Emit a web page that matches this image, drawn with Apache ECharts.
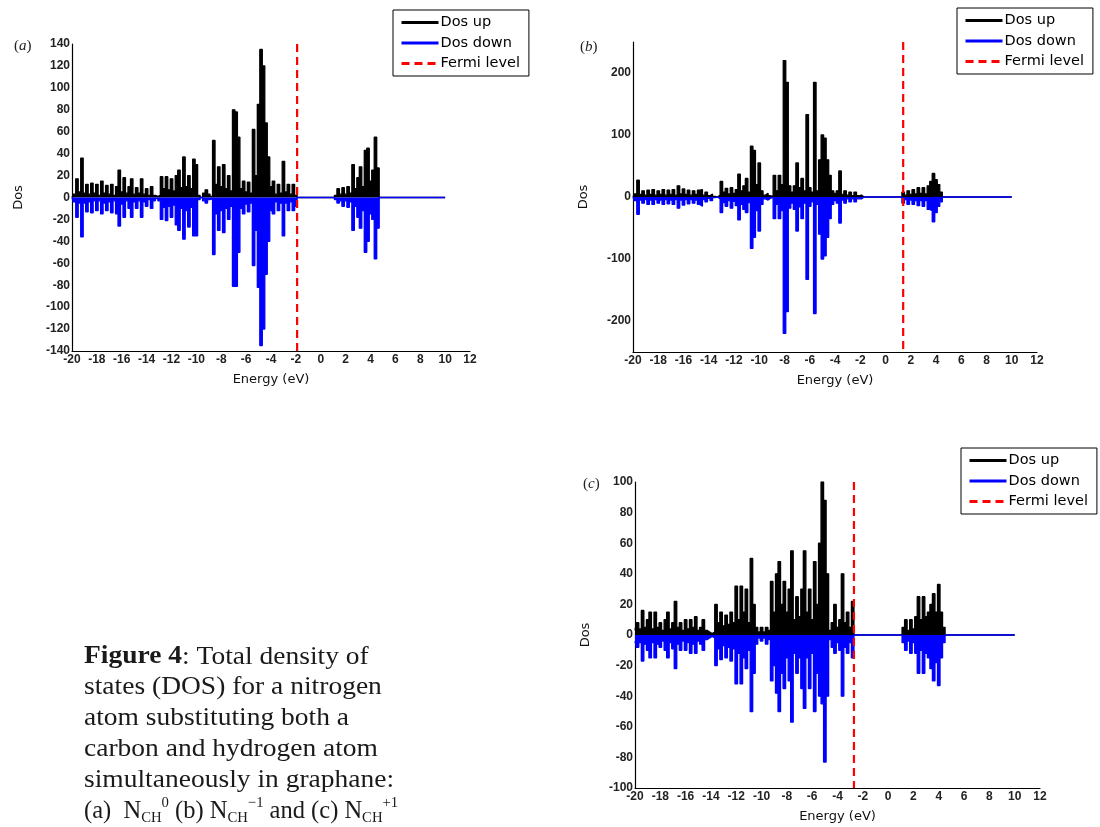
<!DOCTYPE html>
<html><head><meta charset="utf-8">
<script src="https://cdn.jsdelivr.net/npm/echarts@6/dist/echarts.min.js"></script>
<style>html,body{margin:0;padding:0;background:#fff}#c{width:1100px;height:827px}</style>
</head><body><div id="c"></div>
<script>
// Energy grid: samples start at -20 eV, spaced 0.2 eV, up to 10 eV
const energyStart = -20, energyStep = 0.2;
const seriesNames = ['Dos up', 'Dos down', 'Fermi level'];
const panelLabels = ['a', 'b', 'c'];
const fermiLevels = [-1.9, 1.4, -2.7];
const xRange = [-20, 12], xInterval = 2;
const yRanges = [[-140, 140], [-250, 250], [-100, 100]];
const yIntervals = [20, 50, 20];
const yLabelSteps = [20, 100, 20];
const Z26 = [0,0,0,0,0, 0,0,0,0,0, 0,0,0,0,0, 0,0,0,0,0, 0,0,0,0,0, 0];

// Panel (a) N_CH^0
const upA = [
  0,3,17,5,36,  4,12,3,13,4,  12,2,15,4,11,  3,12,2,10,25,  5,18,4,10,17,
  3,9,4,17,3,  8,2,10,2,1,  2,19,8,19,7,  17,6,20,25,9,  37,10,20,8,35,
  30,2,0,4,7,  3,1,52,12,28,  10,30,8,20,6,  80,78,55,8,15,  5,14,4,62,20,
  85,135,120,68,37,  10,15,3,12,4,  33,5,12,3,12,
  2,0,0,0,0,  0,0,0,0,0,  0,0,0,0,0,
  0,2,8,3,9,  3,10,4,30,8,  18,28,10,43,45,  15,25,55,27,0
].concat(Z26);
const downA = [
  0,-4,-18,-5,-36,  -5,-13,-4,-14,-3,  -12,-3,-15,-5,-12,  -4,-14,-3,-15,-26,  -6,-18,-3,-10,-18,
  -4,-10,-3,-18,-4,  -8,-2,-10,-3,-1,  -3,-20,-9,-21,-8,  -18,-7,-25,-30,-10,  -38,-12,-27,-9,-35,
  -35,-2,0,-3,-5,  -2,-1,-52,-15,-30,  -12,-32,-10,-20,-8,  -81,-81,-50,-10,-15,  -6,-13,-5,-62,-30,
  -82,-135,-120,-70,-40,  -12,-15,-4,-12,-5,  -35,-5,-12,-4,-12,
  -8,0,0,0,0,  0,0,0,0,0,  0,0,0,0,0,
  0,-2,-5,-3,-8,  -3,-9,-4,-30,-8,  -18,-28,-12,-50,-40,  -15,-20,-56,-28,0
].concat(Z26);

// Panel (b) N_CH^-1
const upB = [
  0,5,27,4,10,  3,11,4,12,3,  10,4,12,3,11,  4,12,3,18,5,  13,4,11,3,10,
  4,11,12,3,8,  2,5,1,0,3,  25,8,14,5,15,  6,12,37,10,18,  30,8,82,75,20,
  55,10,3,6,2,  1,35,10,35,20,  220,185,18,8,18,  55,15,30,10,133,  15,8,185,10,60,
  100,95,60,35,10,  6,10,42,4,10,  3,8,2,8,2,
  3,0,0,0,0,  0,0,0,0,0,  0,0,0,0,0,
  0,0,8,3,10,  4,12,5,15,6,  15,5,18,25,38,  28,20,8,0,0
].concat(Z26);
const downB = [
  0,-6,-28,-5,-10,  -4,-12,-5,-12,-4,  -10,-5,-12,-4,-11,  -5,-12,-4,-18,-5,  -13,-4,-11,-4,-10,
  -5,-12,-15,-4,-8,  -2,-6,-1,0,-3,  -25,-9,-15,-6,-18,  -7,-14,-37,-12,-20,  -25,-9,-83,-65,-22,
  -55,-12,-3,-5,-2,  -1,-35,-12,-35,-22,  -220,-185,-18,-10,-20,  -55,-16,-35,-10,-133,  -15,-8,-188,-12,-60,
  -100,-95,-65,-35,-12,  -6,-10,-42,-5,-10,  -3,-8,-3,-8,-3,
  -3,0,0,0,0,  0,0,0,0,0,  0,0,0,0,0,
  0,0,-10,-4,-12,  -5,-12,-6,-14,-6,  -15,-6,-20,-22,-40,  -25,-15,-8,0,0
].concat(Z26);

// Panel (c) N_CH^+1
const upC = [
  3,8,4,16,5,  10,15,4,15,5,  8,3,10,15,4,  8,22,5,8,3,  10,4,10,5,12,
  3,5,10,3,2,  1,2,20,8,15,  6,13,7,15,8,  32,10,32,15,30,  8,50,20,5,2,
  5,2,5,3,35,  15,40,48,20,35,  15,30,55,10,25,  12,30,55,15,30,  10,48,20,60,100,
  88,40,3,8,20,  5,10,40,8,15,  5,22,0,0,0,
  0,0,0,0,0,  0,0,0,0,0,  0,0,0,0,0,
  0,5,10,3,10,  4,12,25,10,25,  12,15,20,27,15,  33,15,5,0,0
].concat(Z26);
const downC = [
  -4,-8,-5,-17,-6,  -10,-15,-5,-15,-6,  -8,-4,-10,-15,-5,  -9,-22,-6,-10,-4,  -10,-5,-12,-6,-12,
  -4,-6,-10,-3,-2,  -1,-2,-20,-9,-16,  -7,-15,-8,-17,-9,  -32,-12,-32,-15,-22,  -10,-50,-25,-6,-2,
  -4,-2,-6,-3,-30,  -20,-38,-50,-25,-35,  -15,-30,-57,-12,-25,  -15,-35,-48,-15,-35,  -12,-50,-25,-40,-45,
  -83,-40,-3,-8,-12,  -5,-10,-40,-8,-12,  -5,-15,0,0,0,
  0,0,0,0,0,  0,0,0,0,0,  0,0,0,0,0,
  0,-5,-10,-4,-12,  -5,-12,-25,-10,-25,  -12,-15,-22,-30,-18,  -33,-15,-5,0,0
].concat(Z26);

const ups = [upA, upB, upC];
const downs = [downA, downB, downC];

// Caption lines
const captionLines = [
  '{b|Figure 4}: Total density of',
  'states (DOS) for a nitrogen',
  'atom substituting both a',
  'carbon and hydrogen atom',
  'simultaneously in graphane:',
  '(a)  N{sub|CH}{sup|0} (b) N{sub|CH}{sup|\u22121} and (c) N{sub|CH}{sup|+1}'
];

// ---------- layout ----------
const layout = [
  {grid:{left:72, top:44, width:398, height:307}, legend:{left:393, top:10}, label:[14, 46], yGap:47},
  {grid:{left:633, top:42, width:404, height:310}, legend:{left:957, top:8}, label:[580, 47], yGap:43},
  {grid:{left:635, top:482, width:405, height:306}, legend:{left:961, top:448}, label:[583, 484], yGap:43}
];
const captionX = 84, captionY0 = 657, captionDY = 30.8;

function toPairs(arr) {
  return arr.map((v, i) => [+(energyStart + i * energyStep).toFixed(2), v]);
}

const chart = echarts.init(document.getElementById('c'), null, {renderer: 'canvas'});
const axisFont = 'Liberation Sans';
const grids = [], xAxes = [], yAxes = [], series = [], legends = [], graphics = [];

layout.forEach((L, k) => {
  grids.push(Object.assign({containLabel: false}, L.grid));
  xAxes.push({
    type: 'value', gridIndex: k, min: xRange[0], max: xRange[1], interval: xInterval,
    axisLine: {show: true, onZero: false, lineStyle: {color: '#000', width: 1.2}},
    axisTick: {show: false}, splitLine: {show: false},
    axisLabel: {fontSize: 12, fontWeight: 'bold', color: '#222', margin: 3, fontFamily: axisFont,
      showMinLabel: true, showMaxLabel: true},
    name: 'Energy (eV)', nameLocation: 'middle', nameGap: 22,
    nameTextStyle: {fontSize: 13, color: '#111', fontFamily: 'DejaVu Sans'}
  });
  const step = yLabelSteps[k];
  yAxes.push({
    type: 'value', gridIndex: k, min: yRanges[k][0], max: yRanges[k][1], interval: yIntervals[k],
    axisLine: {show: true, onZero: false, lineStyle: {color: '#000', width: 1.2}},
    axisTick: {show: false}, splitLine: {show: false},
    axisLabel: {fontSize: 12, fontWeight: 'bold', color: '#222', margin: 2, fontFamily: axisFont,
      showMinLabel: true, showMaxLabel: true,
      formatter: v => (Math.round(v) % step === 0 ? String(v) : '')},
    name: 'Dos', nameLocation: 'middle', nameGap: L.yGap,
    nameTextStyle: {fontSize: 13, color: '#111', fontFamily: 'DejaVu Sans'}
  });
  series.push({
    type: 'line', name: seriesNames[0], xAxisIndex: k, yAxisIndex: k, data: toPairs(ups[k]),
    step: 'middle', symbol: 'none', lineStyle: {color: '#000', width: 1.3}, itemStyle: {color: '#000'},
    areaStyle: {color: '#000', opacity: 1}, z: 2
  });
  series.push({
    type: 'line', name: seriesNames[1], xAxisIndex: k, yAxisIndex: k, data: toPairs(downs[k]),
    step: 'middle', symbol: 'none', lineStyle: {color: '#0000ff', width: 1.3}, itemStyle: {color: '#0000ff'},
    areaStyle: {color: '#0000ff', opacity: 1}, z: 3
  });
  series.push({
    type: 'line', name: seriesNames[2], xAxisIndex: k, yAxisIndex: k,
    data: [[fermiLevels[k], yRanges[k][1]], [fermiLevels[k], yRanges[k][0]]],
    symbol: 'none', lineStyle: {color: '#ff0000', width: 2.2, type: [8, 5]}, itemStyle: {color: '#ff0000'}, z: 4
  });
  legends.push({
    left: L.legend.left, top: L.legend.top, orient: 'vertical', data: seriesNames,
    itemWidth: 37, itemHeight: 15, itemGap: 5.5, selectedMode: false,
    borderColor: '#000', borderWidth: 1, backgroundColor: '#fff', padding: [5, 9, 5, 7],
    lineStyle: {width: 3}, itemStyle: {opacity: 0},
    textStyle: {fontSize: 14.5, color: '#000', fontFamily: 'DejaVu Sans', padding: [0, 0, 0, -3]}
  });
  graphics.push({
    type: 'text', x: L.label[0], y: L.label[1],
    style: {text: '({i|' + panelLabels[k] + '})', fontSize: 15, fontFamily: 'Liberation Serif', fill: '#222',
      verticalAlign: 'middle',
      rich: {i: {fontStyle: 'italic', fontSize: 15, fontFamily: 'Liberation Serif', fill: '#222'}}}
  });
});

const capRich = {
  b: {fontWeight: 'bold', fontSize: 25, fontFamily: 'Liberation Serif', fill: '#1a1a1a'},
  sub: {fontSize: 15, fontFamily: 'Liberation Serif', fill: '#1a1a1a', verticalAlign: 'bottom', lineHeight: 14},
  sup: {fontSize: 15, fontFamily: 'Liberation Serif', fill: '#1a1a1a', verticalAlign: 'top', lineHeight: 14}
};
captionLines.forEach((t, i) => {
  const last = i === captionLines.length - 1;
  graphics.push({
    type: 'text', x: captionX, y: captionY0 + i * captionDY, scaleX: last ? 0.98 : 1.1,
    style: {text: t, fontSize: 25, fontFamily: 'Liberation Serif', fill: '#1a1a1a', verticalAlign: 'middle',
      lineHeight: 30, rich: capRich}
  });
});

chart.setOption({
  animation: false,
  backgroundColor: '#fff',
  grid: grids, xAxis: xAxes, yAxis: yAxes, series: series, legend: legends, graphic: graphics
});
</script></body></html>
